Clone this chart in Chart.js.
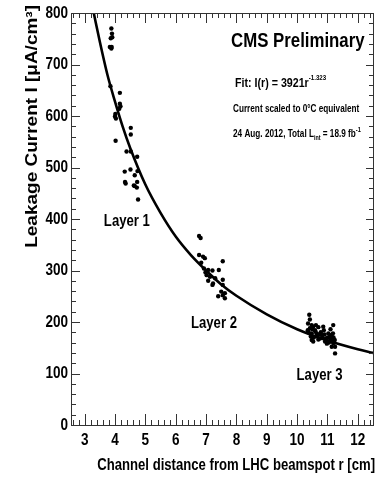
<!DOCTYPE html>
<html>
<head>
<meta charset="utf-8">
<script src="https://cdn.jsdelivr.net/npm/chart.js@4.4.1/dist/chart.umd.min.js"></script>
<style>
  html, body { margin: 0; padding: 0; background: #fff; }
</style>
</head>
<body>
<canvas id="chart" width="383" height="478"></canvas>
<script>
// channel distance r [cm] and leakage current I [uA/cm3]
const layer1R = [3.88, 3.90, 3.86, 3.91, 3.83, 3.89, 3.88, 3.85, 4.16, 4.16, 4.18, 4.14, 4.01, 4.00, 4.03, 4.02,
                 4.52, 4.52, 4.38, 4.52, 4.73, 4.32, 4.51, 4.65, 4.74, 4.33, 4.35, 4.65, 4.73, 4.72, 4.76, 4.62];
const layer1I = [770, 760, 751, 753, 734, 734, 731, 658, 645, 624, 619, 614, 604, 599, 595, 552,
                 577, 564, 531, 531, 521, 492, 496, 485, 493, 472, 469, 464, 472, 461, 438, 465];

const layer2R = [6.77, 6.82, 6.77, 6.90, 6.96, 7.55, 6.84, 6.93, 7.07, 7.21, 7.42, 7.02, 7.13,
                 7.55, 7.07, 7.23, 7.21, 7.55, 7.50, 7.62, 7.40, 7.55, 7.62, 6.98, 7.30];
const layer2I = [367, 363, 330, 327, 324, 318, 315, 304, 301, 300, 301, 291, 288,
                 282, 280, 275, 272, 272, 259, 256, 250, 252, 246, 296, 285];

const layer3R = [10.40, 10.42, 10.36, 10.48, 10.53, 10.70, 10.86, 11.19, 10.42, 10.59, 10.48, 10.64, 10.81,
                 11.03, 11.14, 10.48, 10.53, 10.75, 10.92, 11.09, 11.19, 11.25, 11.25, 11.14, 10.38, 10.45,
                 10.55, 10.60, 10.66, 10.70, 10.78, 10.84, 10.90, 10.95, 11.00, 11.05, 11.08, 11.12, 11.16,
                 11.20, 11.22, 11.10, 10.35, 10.50, 10.62, 10.72, 10.98, 11.18, 11.24, 10.88];
const layer3I = [214, 205, 197, 194, 191, 190, 191, 194, 188, 184, 178, 178, 175,
                 178, 175, 165, 162, 168, 162, 165, 159, 152, 139, 152, 180, 172,
                 170, 182, 172, 166, 180, 170, 176, 168, 170, 160, 172, 168, 162,
                 170, 160, 186, 184, 186, 194, 176, 158, 178, 165, 184];

// fitted curve as drawn
const fitR = [3.3, 3.5, 3.75, 4, 4.25, 4.5, 5, 5.5, 6, 6.5, 7, 7.5, 8, 9, 10, 11, 12, 12.5];
const fitI = [800, 744, 680, 628, 580, 538, 467, 412, 366, 330, 300, 273, 251, 215, 186, 164, 147, 140];

const xTickLabels = [3, 4, 5, 6, 7, 8, 9, 10, 11, 12];
const yTickLabels = [0, 100, 200, 300, 400, 500, 600, 700, 800];

const layerNames = ['Layer 1', 'Layer 2', 'Layer 3'];
const layerNameR = [4.39, 7.26, 10.74];
const layerNameI = [394, 196, 95];

const FONT = "'Liberation Sans', Arial, sans-serif";
const SQUEEZE = 0.82; // the picture is narrowed horizontally
const toPts = (xs, ys) => xs.map((x, i) => ({ x: x, y: ys[i] }));

function narrowText(ctx, text, x, y, size, align, baseline) {
  ctx.save();
  ctx.translate(x, y);
  ctx.scale(SQUEEZE, 1);
  ctx.font = 'bold ' + size + 'px ' + FONT;
  ctx.textAlign = align;
  ctx.textBaseline = baseline;
  ctx.fillText(text, 0, 0);
  ctx.restore();
}

function drawRuns(ctx, x, y, runs) {
  runs.forEach(([text, size, dy]) => {
    narrowText(ctx, text, x, y + dy, size, 'left', 'alphabetic');
    ctx.font = 'bold ' + size + 'px ' + FONT;
    x += ctx.measureText(text).width * SQUEEZE;
  });
}

const decorations = {
  id: 'decorations',
  afterDraw(chart) {
    const { ctx, chartArea: a, scales: { x, y } } = chart;
    ctx.save();
    ctx.strokeStyle = '#333';
    ctx.lineWidth = 1;
    ctx.strokeRect(a.left + 0.5, a.top + 0.5, a.right - a.left, a.bottom - a.top);

    // inward ticks, 5 subdivisions per major step
    ctx.beginPath();
    for (let k = Math.ceil(x.min * 5); k <= Math.floor(x.max * 5); k++) {
      const px = Math.round(x.getPixelForValue(k / 5)) + 0.5;
      const major = k % 5 === 0;
      ctx.moveTo(px, a.bottom); ctx.lineTo(px, a.bottom - (major ? 11 : 5));
      ctx.moveTo(px, a.top); ctx.lineTo(px, a.top + (major ? 10 : 5));
    }
    for (let k = 0; k <= 40; k++) {
      const py = Math.round(y.getPixelForValue(k * 20)) + 0.5;
      const major = k % 5 === 0;
      ctx.moveTo(a.left, py); ctx.lineTo(a.left + (major ? 9 : 5), py);
      ctx.moveTo(a.right, py); ctx.lineTo(a.right - (major ? 7 : 4), py);
    }
    ctx.stroke();

    ctx.fillStyle = '#000';
    // tick labels from the scales
    x.ticks.forEach(t => narrowText(ctx, String(t.value), x.getPixelForValue(t.value), a.bottom + 15, 16.5, 'center', 'middle'));
    y.ticks.forEach(t => narrowText(ctx, String(t.value), a.left - 3, y.getPixelForValue(t.value), 16.5, 'right', 'middle'));

    // axis title x
    narrowText(ctx, 'Channel distance from LHC beamspot r [cm]', a.right + 2, 466, 16, 'right', 'middle');

    // layer names
    layerNames.forEach((t, i) => {
      narrowText(ctx, t, x.getPixelForValue(layerNameR[i]), y.getPixelForValue(layerNameI[i]), 16, 'center', 'middle');
    });

    // header texts
    drawRuns(ctx, 231, 47, [['CMS Preliminary', 20.5, 0]]);
    drawRuns(ctx, 235, 87, [['Fit: I(r) = 3921r', 13, 0], ['-1.323', 7.5, -7]]);
    drawRuns(ctx, 233, 112, [['Current scaled to 0\u00B0C equivalent', 10, 0]]);
    drawRuns(ctx, 233, 137, [['24 Aug. 2012, Total L', 10, 0], ['int', 6.5, 3], [' = 18.9 fb', 10, 0], ['-1', 7, -5]]);

    // y axis title (glyph height squeezed like the rest of the picture)
    ctx.translate(37, 5);
    ctx.rotate(-Math.PI / 2);
    ctx.scale(1, SQUEEZE);
    ctx.font = 'bold 19px ' + FONT;
    ctx.textAlign = 'right';
    ctx.textBaseline = 'alphabetic';
    ctx.fillText('Leakage Current I [\u03BCA/cm\u00B3]', 0, 0);
    ctx.restore();
  }
};

new Chart(document.getElementById('chart'), {
  type: 'scatter',
  data: {
    datasets: [
      { data: toPts(layer1R, layer1I), pointRadius: 2.2, backgroundColor: '#000', borderWidth: 0 },
      { data: toPts(layer2R, layer2I), pointRadius: 2.2, backgroundColor: '#000', borderWidth: 0 },
      { data: toPts(layer3R, layer3I), pointRadius: 2.2, backgroundColor: '#000', borderWidth: 0 },
      { type: 'line', data: toPts(fitR, fitI), borderColor: '#000', borderWidth: 2.6,
        pointRadius: 0, cubicInterpolationMode: 'monotone', fill: false }
    ]
  },
  options: {
    responsive: false,
    animation: false,
    devicePixelRatio: 1,
    layout: { padding: { top: 13, right: 10, left: 0, bottom: 0 } },
    plugins: { legend: { display: false }, tooltip: { enabled: false } },
    scales: {
      x: {
        type: 'linear', min: 2.55, max: 12.5,
        grid: { display: false },
        border: { display: true, color: '#333', width: 1 },
        afterBuildTicks: s => { s.ticks = xTickLabels.map(v => ({ value: v })); },
        afterFit: s => { s.height = 53; },
        ticks: { display: false }
      },
      y: {
        type: 'linear', min: 0, max: 800,
        grid: { display: false },
        border: { display: true, color: '#333', width: 1 },
        afterBuildTicks: s => { s.ticks = yTickLabels.map(v => ({ value: v })); },
        afterFit: s => { s.width = 71; },
        ticks: { display: false }
      }
    }
  },
  plugins: [decorations]
});
</script>
</body>
</html>
